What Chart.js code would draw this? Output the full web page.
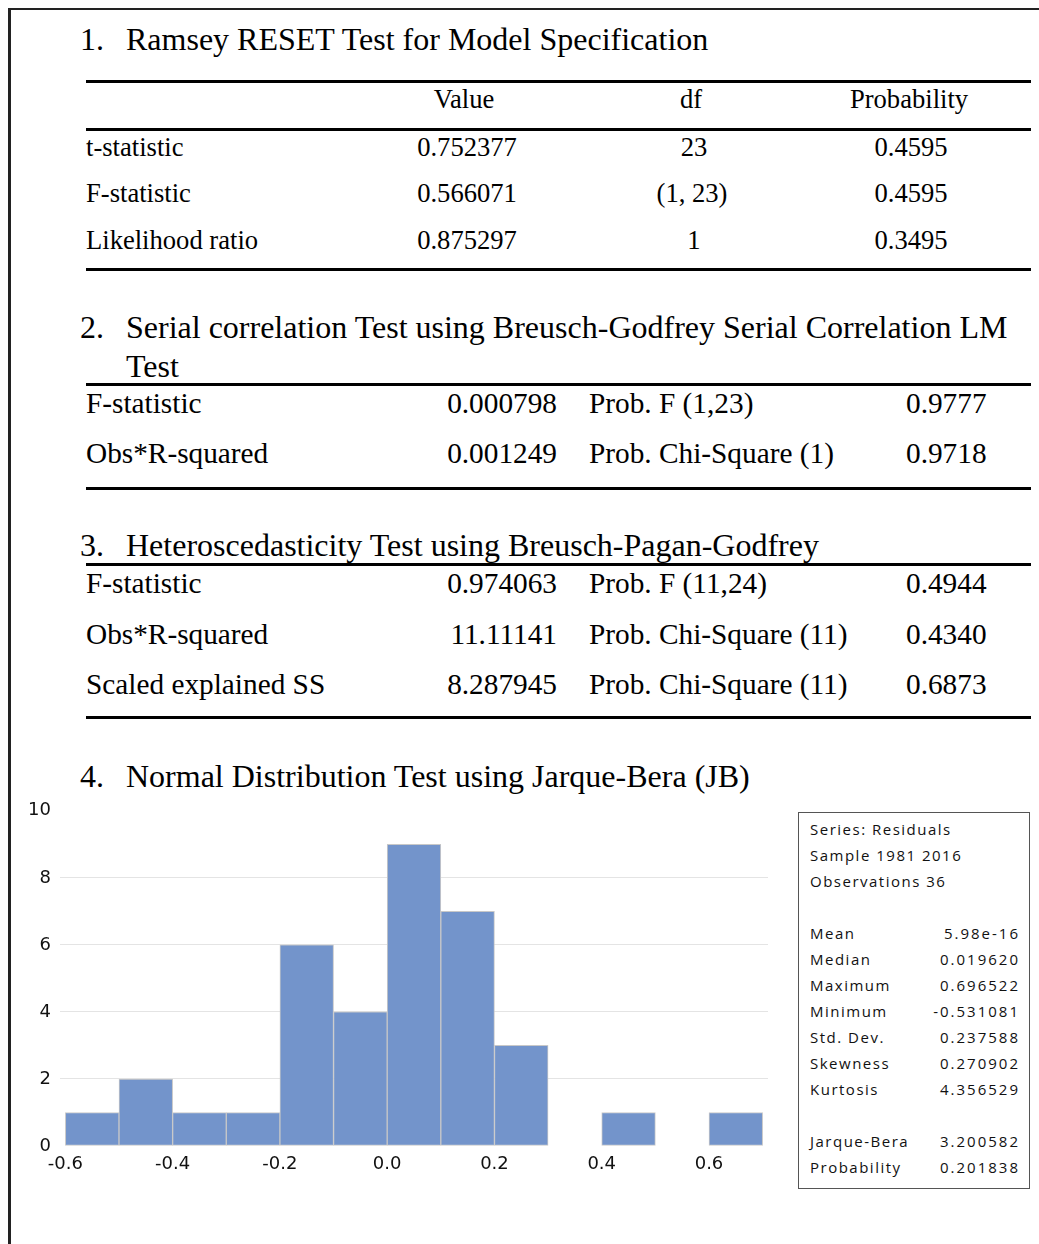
<!DOCTYPE html>
<html>
<head>
<meta charset="utf-8">
<script src="https://cdn.jsdelivr.net/npm/chart.js@4.4.1/dist/chart.umd.min.js"></script>
<style>
  html, body { margin: 0; padding: 0; background: #fff; }
  #page { position: relative; width: 1039px; height: 1244px; overflow: hidden; }
  .frame-top { position: absolute; left: 8px; top: 8px; width: 1040px; height: 2px; background: #222; }
  .frame-left { position: absolute; left: 8px; top: 8px; width: 3px; height: 1250px; background: #222; }
  .t { position: absolute; font-family: "Liberation Serif", "Times New Roman", serif; color: #000; white-space: nowrap; line-height: 1; }
  .h32 { font-size: 32px; }
  .s26 { font-size: 26.6px; }
  .s29 { font-size: 29.3px; }
  .c { transform: translateX(-50%); }
  .r { transform: translateX(-100%); }
  .rule { position: absolute; left: 86px; width: 945px; height: 3px; background: #000; }
  #stats { position: absolute; left: 798px; top: 812px; width: 232px; height: 377px; border: 1px solid #555; box-sizing: border-box; }
  .st { position: absolute; font-family: "Open Sans", sans-serif; font-size: 15px; letter-spacing: 1.5px; color: #111; white-space: nowrap; line-height: 1; }
  .sv { letter-spacing: 2px; }
  #chartBox { position: absolute; left: 0; top: 791px; width: 780px; height: 390px; }
</style>
</head>
<body>
<div id="page">
  <div class="frame-top"></div>
  <div class="frame-left"></div>

  <!-- 1. Ramsey RESET -->
  <div class="t h32" style="left:80px; top:23px;">1.</div>
  <div class="t h32" style="left:126px; top:23px;">Ramsey RESET Test for Model Specification</div>
  <div class="rule" style="top:80px;"></div>
  <div class="t s26 c" style="left:464px; top:86px;">Value</div>
  <div class="t s26 c" style="left:691px; top:86px;">df</div>
  <div class="t s26 c" style="left:909px; top:86px;">Probability</div>
  <div class="rule" style="top:128px;"></div>
  <div class="t s26" style="left:86px; top:134px;">t-statistic</div>
  <div class="t s26 c" style="left:467px; top:134px;">0.752377</div>
  <div class="t s26 c" style="left:694px; top:134px;">23</div>
  <div class="t s26 c" style="left:911px; top:134px;">0.4595</div>
  <div class="t s26" style="left:86px; top:180px;">F-statistic</div>
  <div class="t s26 c" style="left:467px; top:180px;">0.566071</div>
  <div class="t s26 c" style="left:692px; top:180px;">(1, 23)</div>
  <div class="t s26 c" style="left:911px; top:180px;">0.4595</div>
  <div class="t s26" style="left:86px; top:227px;">Likelihood ratio</div>
  <div class="t s26 c" style="left:467px; top:227px;">0.875297</div>
  <div class="t s26 c" style="left:694px; top:227px;">1</div>
  <div class="t s26 c" style="left:911px; top:227px;">0.3495</div>
  <div class="rule" style="top:268px;"></div>

  <!-- 2. Breusch-Godfrey -->
  <div class="t h32" style="left:80px; top:311px;">2.</div>
  <div class="t h32" style="left:126px; top:311px;">Serial correlation Test using Breusch-Godfrey Serial Correlation LM</div>
  <div class="t h32" style="left:126px; top:350px;">Test</div>
  <div class="rule" style="top:383px;"></div>
  <div class="t s29" style="left:86px; top:389px;">F-statistic</div>
  <div class="t s29 r" style="left:557px; top:389px;">0.000798</div>
  <div class="t s29" style="left:589px; top:389px;">Prob. F (1,23)</div>
  <div class="t s29" style="left:906px; top:389px;">0.9777</div>
  <div class="t s29" style="left:86px; top:439px;">Obs*R-squared</div>
  <div class="t s29 r" style="left:557px; top:439px;">0.001249</div>
  <div class="t s29" style="left:589px; top:439px;">Prob. Chi-Square (1)</div>
  <div class="t s29" style="left:906px; top:439px;">0.9718</div>
  <div class="rule" style="top:487px;"></div>

  <!-- 3. Breusch-Pagan-Godfrey -->
  <div class="t h32" style="left:80px; top:529px;">3.</div>
  <div class="t h32" style="left:126px; top:529px;">Heteroscedasticity Test using Breusch-Pagan-Godfrey</div>
  <div class="rule" style="top:563px;"></div>
  <div class="t s29" style="left:86px; top:569px;">F-statistic</div>
  <div class="t s29 r" style="left:557px; top:569px;">0.974063</div>
  <div class="t s29" style="left:589px; top:569px;">Prob. F (11,24)</div>
  <div class="t s29" style="left:906px; top:569px;">0.4944</div>
  <div class="t s29" style="left:86px; top:620px;">Obs*R-squared</div>
  <div class="t s29 r" style="left:557px; top:620px;">11.11141</div>
  <div class="t s29" style="left:589px; top:620px;">Prob. Chi-Square (11)</div>
  <div class="t s29" style="left:906px; top:620px;">0.4340</div>
  <div class="t s29" style="left:86px; top:670px;">Scaled explained SS</div>
  <div class="t s29 r" style="left:557px; top:670px;">8.287945</div>
  <div class="t s29" style="left:589px; top:670px;">Prob. Chi-Square (11)</div>
  <div class="t s29" style="left:906px; top:670px;">0.6873</div>
  <div class="rule" style="top:716px;"></div>

  <!-- 4. Jarque-Bera -->
  <div class="t h32" style="left:80px; top:760px;">4.</div>
  <div class="t h32" style="left:126px; top:760px;">Normal Distribution Test using Jarque-Bera (JB)</div>

  <div id="chartBox"><canvas id="hist" width="780" height="390"></canvas></div>
  <div id="stats"></div>
</div>

<script>
// Histogram of residuals: bins of width 0.1 from -0.6 to 0.7
const binCenters = [-0.55, -0.45, -0.35, -0.25, -0.15, -0.05, 0.05, 0.15, 0.25, 0.35, 0.45, 0.55, 0.65];
const binCounts  = [1, 2, 1, 1, 6, 4, 9, 7, 3, 0, 1, 0, 1];
const xTickValues = [-0.6, -0.4, -0.2, 0.0, 0.2, 0.4, 0.6];
const yTickValues = [0, 2, 4, 6, 8, 10];

// Descriptive statistics panel
const statHeader = ["Series: Residuals", "Sample 1981 2016", "Observations 36"];
const statLabels = ["Mean", "Median", "Maximum", "Minimum", "Std. Dev.", "Skewness", "Kurtosis"];
const statValues = ["5.98e-16", "0.019620", "0.696522", "-0.531081", "0.237588", "0.270902", "4.356529"];
const testLabels = ["Jarque-Bera", "Probability"];
const testValues = ["3.200582", "0.201838"];

// Fill the statistics panel (row pitch 26px, blank row between groups)
(function buildStats() {
  const box = document.getElementById('stats');
  const rows = [];
  statHeader.forEach(h => rows.push([h, null]));
  rows.push(null);
  statLabels.forEach((l, i) => rows.push([l, statValues[i]]));
  rows.push(null);
  testLabels.forEach((l, i) => rows.push([l, testValues[i]]));
  rows.forEach((row, i) => {
    if (!row) return;
    const top = 9 + i * 26;
    const a = document.createElement('div');
    a.className = 'st';
    a.style.left = '11px';
    a.style.top = top + 'px';
    a.textContent = row[0];
    box.appendChild(a);
    if (row[1] !== null) {
      const b = document.createElement('div');
      b.className = 'st sv';
      b.style.right = '9px';
      b.style.top = top + 'px';
      b.textContent = row[1];
      box.appendChild(b);
    }
  });
})();

new Chart(document.getElementById('hist'), {
  type: 'bar',
  data: {
    datasets: [{
      data: binCenters.map((c, i) => ({ x: c, y: binCounts[i] })),
      backgroundColor: '#7394cb',
      borderColor: '#c8c8c8',
      borderWidth: 1,
      borderSkipped: false,
      barPercentage: 1,
      categoryPercentage: 1,
      grouped: false
    }]
  },
  options: {
    responsive: false,
    animation: false,
    devicePixelRatio: 1,
    layout: { padding: { top: 11, right: 12, left: 0, bottom: 0 } },
    plugins: { legend: { display: false }, tooltip: { enabled: false } },
    scales: {
      x: {
        type: 'linear',
        offset: false,
        min: -0.61,
        max: 0.71,
        afterBuildTicks: s => { s.ticks = xTickValues.map(v => ({ value: v })); },
        afterFit: s => { s.height = 35; },
        grid: { display: false, drawTicks: false },
        border: { display: false },
        ticks: {
          padding: 8,
          color: '#111',
          font: { family: 'DejaVu Sans', size: 18 },
          maxRotation: 0,
          callback: v => v.toFixed(1)
        }
      },
      y: {
        min: 0,
        max: 10,
        afterBuildTicks: s => { s.ticks = yTickValues.map(v => ({ value: v })); },
        afterFit: s => { s.width = 60; },
        grid: {
          drawTicks: false,
          color: ctx => (ctx.tick && (ctx.tick.value === 0 || ctx.tick.value === 10)) ? 'rgba(0,0,0,0)' : '#e4e4e4',
          lineWidth: 1
        },
        border: { display: false },
        ticks: {
          padding: 9,
          color: '#111',
          font: { family: 'DejaVu Sans', size: 18 }
        }
      }
    }
  }
});
</script>
</body>
</html>
